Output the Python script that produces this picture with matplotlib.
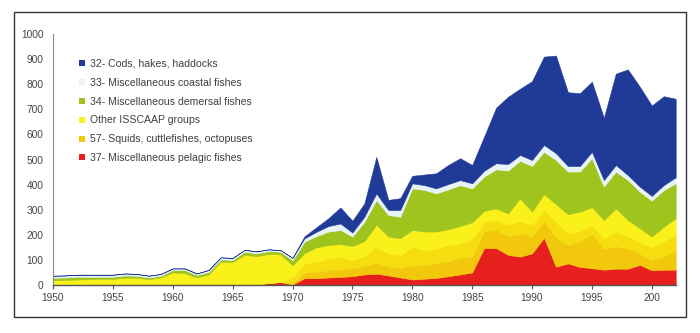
import matplotlib
matplotlib.use("Agg")
import matplotlib.pyplot as plt
from matplotlib.patches import Patch, Rectangle

years = list(range(1950, 2003))

pelagic_37 = [0]*17 + [3, 8, 12, 2, 27, 27, 30, 32, 35, 42, 45, 38, 30, 22, 25, 28, 35, 42, 50,
                       147, 147, 120, 113, 126, 188, 73, 86, 72, 67, 61, 65, 65, 80, 59, 61, 61]
squids_57 = [0]*20 + [3, 23, 26, 30, 30, 32, 33, 45, 35, 37, 58, 55, 60, 60, 68, 63,
                      68, 75, 75, 92, 69, 67, 117, 74, 103, 138, 84, 90, 81, 46, 41, 52, 79]
unlisted_groups = [0]*20 + [25, 35, 40, 45, 50, 33, 40, 63, 53, 53, 73, 59, 58, 64, 56, 72,
                            35, 38, 45, 50, 45, 45, 60, 45, 40, 35, 40, 60, 49, 44, 50, 62, 60]
other_isscaap = [18, 20, 22, 23, 24, 24, 29, 29, 23, 30, 50, 47, 30, 42, 93, 92, 120, 112, 116, 110,
                 48, 42, 57, 54, 51, 55, 60, 87, 67, 66, 66, 74, 67, 63, 69, 65,
                 45, 45, 45, 90, 52, 62, 72, 77, 77, 70, 74, 90, 64, 56, 43, 57, 66]
demersal_34 = [11, 10, 11, 10, 9, 9, 9, 8, 7, 7, 10, 13, 10, 10, 9, 8, 13, 11, 11, 11,
               20, 46, 45, 54, 56, 38, 77, 99, 86, 86, 166, 166, 152, 159, 163, 135,
               137, 156, 171, 150, 182, 169, 176, 170, 160, 195, 133, 147, 159, 146, 143, 146, 139]
coastal_33 = [8, 8, 8, 8, 8, 8, 8, 7, 7, 7, 6, 6, 6, 8, 8, 8, 7, 8, 7, 6,
              10, 13, 17, 22, 26, 16, 20, 26, 20, 27, 20, 19, 20, 21, 20, 20,
              23, 24, 26, 23, 24, 27, 27, 22, 22, 26, 26, 26, 20, 20, 19, 20, 24]
cods_32 = [0]*21 + [8, 18, 31, 64, 47, 53, 145, 40, 47, 30, 42, 60, 76, 87, 73,
                    136, 221, 268, 264, 314, 352, 389, 294, 290, 279, 248, 364, 421, 398, 360, 354, 313]

xtick_years = [1950, 1955, 1960, 1965, 1970, 1975, 1980, 1985, 1990, 1995, 2000]
xtick_labels = ["1950", "1955", "1960", "1965", "1970", "1975", "1980", "1985", "1990", "1995", "200"]
yticks = list(range(0, 1001, 100))

legend_labels = ["32- Cods, hakes, haddocks",
                 "33- Miscellaneous coastal fishes",
                 "34- Miscellaneous demersal fishes",
                 "Other ISSCAAP groups",
                 "57- Squids, cuttlefishes, octopuses",
                 "37- Miscellaneous pelagic fishes"]

c_red = "#e6201c"
c_gold = "#f2c80c"
c_mid = "#f6dd10"
c_yel = "#faf01a"
c_green = "#a0c41e"
c_white = "#e8f3f8"
c_blue = "#203a98"

plt.rcParams['font.family'] = ['Liberation Sans', 'DejaVu Sans']

fig = plt.figure(figsize=(7.0, 3.33), dpi=100)
ax = fig.add_axes([53/700, 1-285/333, (675.7-53)/700, (285-34)/333])

series = [pelagic_37, squids_57, unlisted_groups, other_isscaap, demersal_34, coastal_33, cods_32]
colors = [c_red, c_gold, c_mid, c_yel, c_green, c_white, c_blue]
polys = ax.stackplot(years, *series, colors=colors, linewidth=0.4)
for p, c in zip(polys, colors):
    p.set_edgecolor(c)

ax.set_xlim(1950, 2002)
ax.set_ylim(0, 1000)
ax.set_xticks(xtick_years)
ax.set_xticklabels(xtick_labels)
ax.set_yticks(yticks)
ax.tick_params(axis='x', length=3, width=0.8, color="#555555", pad=3, labelsize=7.3, labelcolor="#444444")
ax.tick_params(axis='y', length=0, pad=7, labelsize=7.3, labelcolor="#444444")
for s in ["top", "right"]:
    ax.spines[s].set_visible(False)
ax.spines["left"].set_color("#8a8a8a")
ax.spines["left"].set_linewidth(0.8)
ax.spines["bottom"].set_color("#555555")
ax.spines["bottom"].set_linewidth(1.0)

handles = [Patch(facecolor=c, edgecolor='none') for c in [c_blue, c_white, c_green, c_yel, c_gold, c_red]]
leg = ax.legend(handles, legend_labels, loc="upper left", bbox_to_anchor=(22/622, 0.918),
                frameon=False, fontsize=7.6, handlelength=0.5, handleheight=0.5,
                handletextpad=0.5, labelspacing=0.84, borderaxespad=0)
for t in leg.get_texts():
    t.set_color("#404040")

fig.patches.append(Rectangle((14/700, 1-317/333), (686-14)/700, (317-12)/333,
                             transform=fig.transFigure, fill=False, edgecolor="#333333", linewidth=1.0))

fig.savefig("out.png", dpi=100)
